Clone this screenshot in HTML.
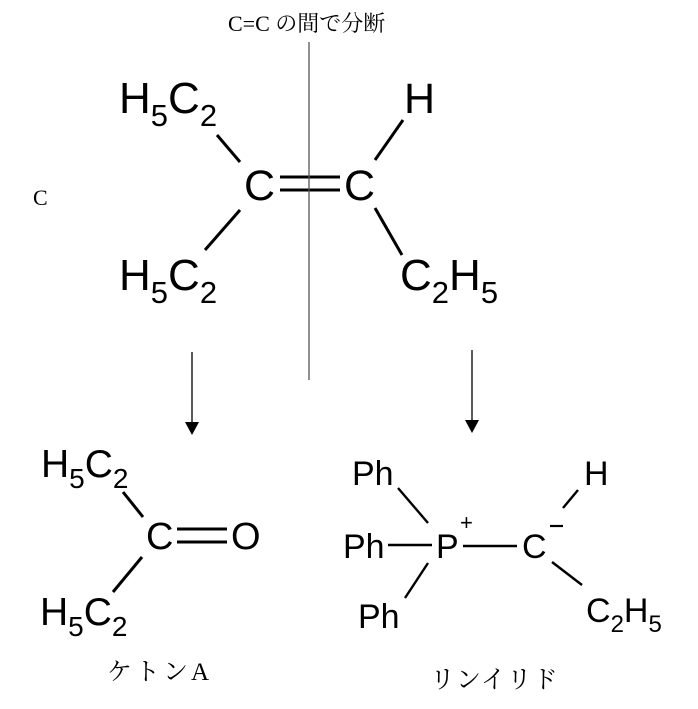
<!DOCTYPE html>
<html><head><meta charset="utf-8"><style>
html,body{margin:0;padding:0;background:#fff;}
svg{display:block;}
.a{font-family:"Liberation Sans",Arial,sans-serif;fill:#000;}
.s{font-family:"Liberation Serif","Noto Serif CJK SC","Noto Sans CJK JP",serif;fill:#000;}
</style></head><body>
<svg width="698" height="709" viewBox="0 0 698 709" xmlns="http://www.w3.org/2000/svg">
<g stroke="#000" stroke-width="3" stroke-linecap="butt">
<line x1="217" y1="135" x2="240" y2="162"/>
<line x1="240" y1="210" x2="205" y2="250"/>
<line x1="403" y1="120" x2="375" y2="160"/>
<line x1="375" y1="208" x2="402" y2="255"/>
<line x1="280" y1="177" x2="340" y2="177"/>
<line x1="280" y1="190" x2="340" y2="190"/>
<line x1="123" y1="492" x2="143" y2="517"/>
<line x1="142" y1="557" x2="113" y2="592"/>
<line x1="177" y1="529" x2="227" y2="529"/>
<line x1="177" y1="542" x2="227" y2="542"/>
</g>
<g stroke="#000" stroke-width="2.4">
<line x1="398" y1="488" x2="428" y2="523"/>
<line x1="388" y1="545" x2="432" y2="545"/>
<line x1="428" y1="563" x2="405" y2="598"/>
<line x1="463" y1="546" x2="517" y2="546"/>
<line x1="563" y1="508" x2="578" y2="490"/>
<line x1="552" y1="562" x2="582" y2="585"/>
</g>
<line x1="309" y1="42" x2="309" y2="380" stroke="#555" stroke-width="1.3"/>
<line x1="192" y1="352" x2="192" y2="424" stroke="#222" stroke-width="1.5"/>
<polygon points="185,422 199,422 192,435" fill="#000"/>
<line x1="472" y1="350" x2="472" y2="422" stroke="#222" stroke-width="1.5"/>
<polygon points="465,420 479,420 472,433" fill="#000"/>

<text class="s" x="228" y="31" font-size="22">C=C の間で分断</text>
<text class="s" x="33" y="205" font-size="22">C</text>

<text class="a" x="119" y="113" font-size="44">H<tspan font-size="31" dy="13">5</tspan><tspan dy="-13">C</tspan><tspan font-size="31" dy="13">2</tspan></text>
<text class="a" x="244" y="200" font-size="43">C</text>
<text class="a" x="344" y="200" font-size="43">C</text>
<text class="a" x="404" y="113" font-size="43">H</text>
<text class="a" x="119" y="290" font-size="44">H<tspan font-size="31" dy="13">5</tspan><tspan dy="-13">C</tspan><tspan font-size="31" dy="13">2</tspan></text>
<text class="a" x="400" y="290" font-size="44">C<tspan font-size="31" dy="13">2</tspan><tspan dy="-13">H</tspan><tspan font-size="31" dy="13">5</tspan></text>

<text class="a" x="41" y="477" font-size="39">H<tspan font-size="28" dy="11">5</tspan><tspan dy="-11">C</tspan><tspan font-size="28" dy="11">2</tspan></text>
<text class="a" x="146" y="549" font-size="38">C</text>
<text class="a" x="231" y="549" font-size="38">O</text>
<text class="a" x="40" y="625" font-size="39">H<tspan font-size="28" dy="11">5</tspan><tspan dy="-11">C</tspan><tspan font-size="28" dy="11">2</tspan></text>
<text class="s" x="107" y="680" font-size="25" letter-spacing="3">ケトンA</text>

<text class="a" x="352" y="485" font-size="34">Ph</text>
<text class="a" x="343" y="558" font-size="34">Ph</text>
<text class="a" x="436" y="558" font-size="34">P</text>
<text class="a" x="460" y="530" font-size="22">+</text>
<text class="a" x="522" y="558" font-size="34">C</text>
<line x1="550" y1="526" x2="563" y2="526" stroke="#000" stroke-width="2.2"/>
<text class="a" x="584" y="485" font-size="34">H</text>
<text class="a" x="586" y="622" font-size="34">C<tspan font-size="24" dy="10">2</tspan><tspan dy="-10">H</tspan><tspan font-size="24" dy="10">5</tspan></text>
<text class="a" x="358" y="628" font-size="34">Ph</text>
<text class="s" x="430" y="688" font-size="25" letter-spacing="1">リンイリド</text>
</svg>
</body></html>
